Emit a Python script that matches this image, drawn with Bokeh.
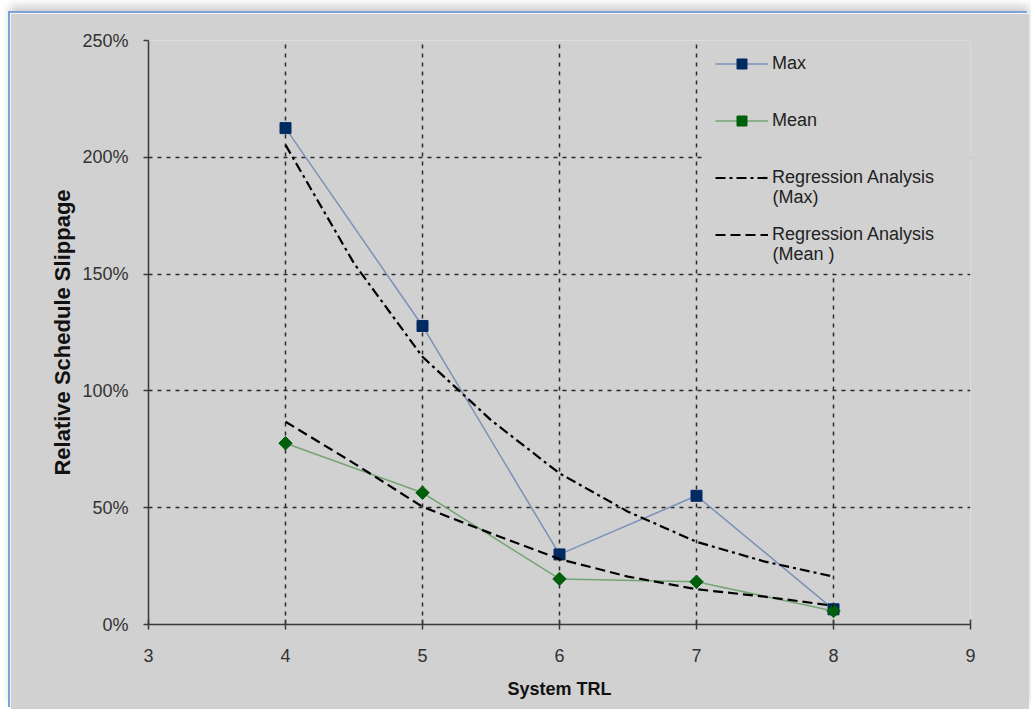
import math
from bokeh.plotting import figure
from bokeh.models import (Legend, LegendItem, PrintfTickFormatter, FixedTicker,
                          Range1d, Label, BoxAnnotation)
from bokeh.embed import file_html
from bokeh.resources import INLINE

# ---- data ----
trl = [4, 5, 6, 7, 8]
max_slip = [212.5, 127.8, 30.0, 55.1, 6.5]
mean_slip = [77.6, 56.4, 19.5, 18.3, 5.8]

reg_x = [4, 4.5, 5, 5.5, 6, 6.5, 7, 7.5, 8]
reg_max = [205.3, 154.6, 114.6, 87.5, 64.7, 48.3, 35.4, 26.9, 20.5]
reg_mean = [86.8, 69.0, 50.4, 39.0, 28.0, 20.5, 15.1, 11.9, 8.0]

x_ticks = [3, 4, 5, 6, 7, 8, 9]
y_ticks = [0, 50, 100, 150, 200, 250]

BG = "#d1d1d1"
FONT = "Liberation Sans"

p = figure(width=1019, height=696, output_backend="svg", toolbar_location=None,
           x_range=Range1d(3, 9), y_range=Range1d(0, 250),
           min_border_left=138, min_border_top=27, min_border_bottom=85,
           min_border_right=59)
p.styles = {"margin-left": "10px", "margin-top": "13px",
            "box-shadow": "-2px -2px 0 0 #7da2d6, 0 -7px 9px rgba(0,0,0,0.20)"}
p.background_fill_color = BG
p.border_fill_color = BG
p.outline_line_color = None

# axes
for ax in (p.xaxis[0], p.yaxis[0]):
    ax.axis_line_color = "#3a3a3a"
    ax.axis_line_width = 1.5
    ax.major_tick_line_color = "#3a3a3a"
    ax.major_tick_line_width = 1.5
    ax.minor_tick_line_color = None
    ax.major_label_text_font = FONT
    ax.major_label_text_font_size = "18px"
    ax.major_label_text_color = "#333333"
    ax.axis_label_text_font = FONT
    ax.axis_label_text_font_style = "bold"
    ax.axis_label_text_color = "#111111"

p.xaxis.ticker = FixedTicker(ticks=x_ticks)
p.yaxis.ticker = FixedTicker(ticks=y_ticks)
p.yaxis.formatter = PrintfTickFormatter(format="%d%%")
p.xaxis.major_tick_in = 5
p.xaxis.major_tick_out = 5
p.yaxis.major_tick_in = 0
p.yaxis.major_tick_out = 5
p.xaxis.major_label_standoff = 19
p.yaxis.major_label_standoff = 15
p.xaxis.axis_label = "System TRL"
p.yaxis.axis_label = "Relative Schedule Slippage"
p.xaxis.axis_label_text_font_size = "18px"
p.yaxis.axis_label_text_font_size = "22px"
p.xaxis.axis_label_standoff = 14
p.yaxis.axis_label_standoff = 4

# grid
for g in (p.xgrid[0], p.ygrid[0]):
    g.grid_line_color = "#2a2a2a"
    g.grid_line_width = 1.5
    g.grid_line_dash = "4 5"

# legend backdrop (hides grid lines behind the legend, as in the reference)
p.add_layout(BoxAnnotation(left=7.066, right=9, bottom=150.4, top=250,
                           fill_color=BG, fill_alpha=1, line_color=None))

# series
l_max = p.line(trl, max_slip, line_color="#7b91b8", line_width=1.5)
m_max = p.scatter(trl, max_slip, marker="square", size=11,
                  fill_color="#002a62", line_color="#002a62")
l_mean = p.line(trl, mean_slip, line_color="#74a574", line_width=1.5)
m_mean = p.scatter(trl, mean_slip, marker="square", angle=math.pi / 4, size=9.5,
                   fill_color="#005f0a", line_color="#005f0a")
r_max = p.line(reg_x, reg_max, line_color="black", line_width=2.2,
               line_dash="10 4 3 4")
r_mean = p.line(reg_x, reg_mean, line_color="black", line_width=2.2,
                line_dash="10 5")

legend = Legend(items=[
    LegendItem(label="Max", renderers=[l_max, m_max]),
    LegendItem(label="Mean", renderers=[l_mean, m_mean]),
    LegendItem(label="Regression Analysis", renderers=[r_max]),
    LegendItem(label="Regression Analysis", renderers=[r_mean]),
], location=(567, 377))
legend.background_fill_alpha = 0
legend.border_line_color = None
legend.padding = 0
legend.margin = 0
legend.glyph_width = 53
legend.glyph_height = 25
legend.label_height = 25
legend.label_standoff = 4
legend.spacing = 32
legend.label_text_font = FONT
legend.label_text_font_size = "18px"
legend.label_text_color = "#222222"
p.add_layout(legend)

# second lines of the two-line legend labels
for txt, yv in (("(Max)", 182.8), ("(Mean )", 158.4)):
    p.add_layout(Label(x=7.555, y=yv, text=txt, text_font=FONT,
                       text_font_size="18px", text_color="#222222",
                       text_baseline="middle", text_align="left"))

open("out.html", "w").write(file_html(p, INLINE))
